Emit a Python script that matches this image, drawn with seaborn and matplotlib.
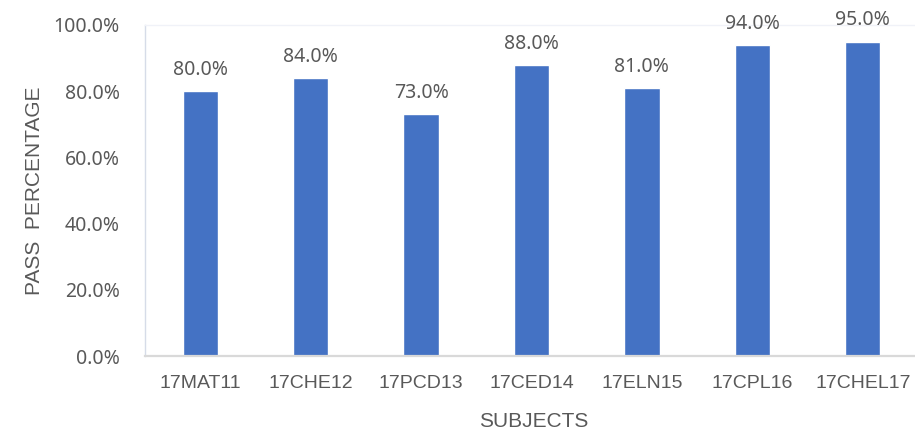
import matplotlib
matplotlib.use("Agg")
import matplotlib.pyplot as plt
import seaborn as sns
import pandas as pd
from matplotlib.ticker import PercentFormatter

subjects = ["17MAT11", "17CHE12", "17PCD13", "17CED14", "17ELN15", "17CPL16", "17CHEL17"]
pass_pct = [80.0, 84.0, 73.0, 88.0, 81.0, 94.0, 95.0]
y_ticks = [0, 20, 40, 60, 80, 100]

df = pd.DataFrame({"subject": subjects, "pct": pass_pct})

sns.set_theme(style="white")
plt.rcParams["font.family"] = ["Noto Sans", "DejaVu Sans"]

fig = plt.figure(figsize=(9.15, 4.36), dpi=100)
ax = fig.add_axes([145 / 915, 1 - 356 / 436, 773 / 915, 331 / 436])

sns.barplot(data=df, x="subject", y="pct", color="#4472C4", width=0.32,
            saturation=1, ax=ax)

text_color = "#595959"
for i, v in enumerate(pass_pct):
    ax.annotate(f"{v:.1f}%", (i, v), xytext=(0, 8), textcoords="offset points",
                ha="center", va="bottom", fontsize=14, color=text_color,
                family="Noto Sans")

ax.set_ylim(0, 100)
ax.set_xlim(-0.5, len(subjects) - 0.5)
ax.set_yticks(y_ticks)
ax.yaxis.set_major_formatter(PercentFormatter(decimals=1))
ax.tick_params(axis="y", length=0, pad=18, labelsize=14, labelcolor=text_color)
ax.tick_params(axis="x", length=0, pad=14, labelsize=14, labelcolor=text_color)
for lab in ax.get_yticklabels():
    lab.set_family("Noto Sans")
for lab in ax.get_xticklabels():
    lab.set_family("Liberation Sans")

ax.set_xlabel("SUBJECTS", fontsize=15, color=text_color, family="Liberation Sans")
ax.set_ylabel("PASS  PERCENTAGE", fontsize=15, color=text_color, family="Liberation Sans")
ax.xaxis.set_label_coords(0.503, -0.168)
ax.yaxis.set_label_coords(-0.131, 0.5)

ax.grid(False)
ax.spines["bottom"].set_color("#D9D9D9")
ax.spines["bottom"].set_linewidth(1.6)
ax.spines["left"].set_color("#D6DCE8")
ax.spines["left"].set_linewidth(1.0)
ax.spines["top"].set_color("#F0F2F8")
ax.spines["top"].set_linewidth(1.0)
ax.spines["right"].set_visible(False)

fig.savefig("out.png", dpi=100)
